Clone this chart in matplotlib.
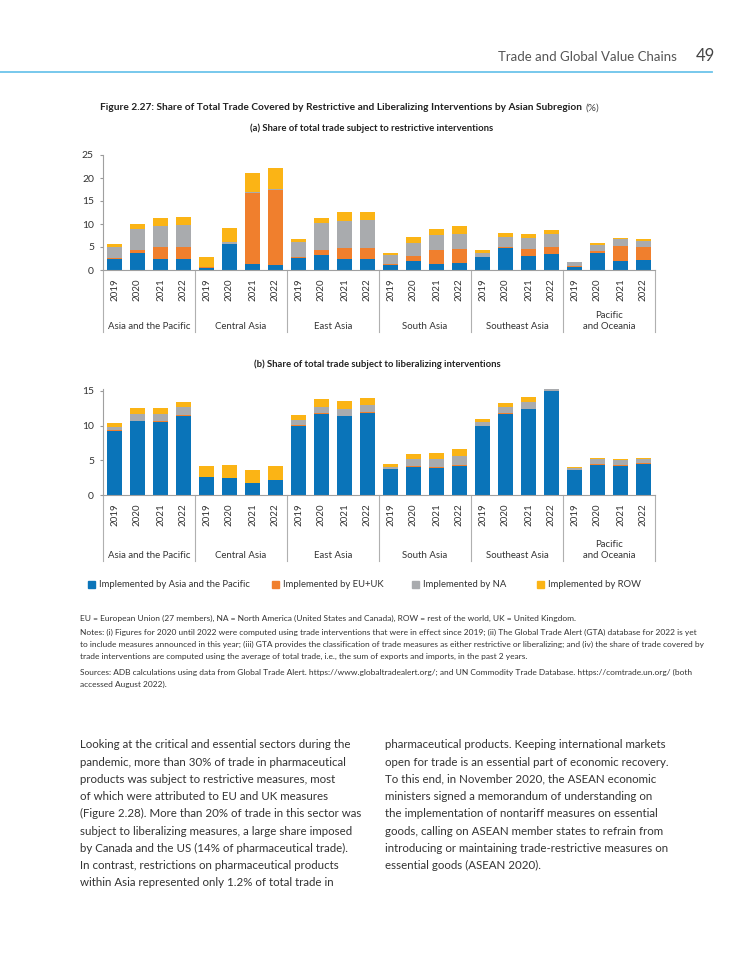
import matplotlib
matplotlib.use("Agg")
import matplotlib.pyplot as plt
import numpy as np

plt.rcParams['font.family'] = ['Lato', 'DejaVu Sans']

# ---- data -------------------------------------------------------------
regions = ["Asia and the Pacific", "Central Asia", "East Asia", "South Asia",
           "Southeast Asia", "Pacific\nand Oceania"]
years = ["2019", "2020", "2021", "2022"]
series = ["Implemented by Asia and the Pacific", "Implemented by EU+UK",
          "Implemented by NA", "Implemented by ROW"]
colors = ["#0A74B9", "#F07F2D", "#A9ABAE", "#FBB415"]

# (a) restrictive interventions, region by region, 2019-2022
restr_apac = [2.4, 3.6, 2.4, 2.45, 0.5, 5.6, 1.3, 1.1, 2.5, 3.3, 2.4, 2.3,
              1.1, 2.0, 1.2, 1.5, 2.75, 4.7, 3.0, 3.4, 0.7, 3.7, 1.95, 2.25]
restr_euuk = [0.3, 0.75, 2.5, 2.45, 0.05, 0.1, 15.4, 16.3, 0.3, 1.0, 2.3, 2.4,
              0.3, 1.0, 3.15, 3.1, 0.15, 0.4, 1.6, 1.7, 0.2, 0.4, 3.25, 2.65]
restr_na = [2.4, 4.5, 4.7, 4.95, 0.05, 0.3, 0.3, 0.3, 3.3, 5.9, 6.0, 6.2,
            1.9, 2.9, 3.15, 3.3, 0.9, 2.15, 2.3, 2.8, 0.8, 1.4, 1.5, 1.4]
restr_row = [0.5, 1.05, 1.6, 1.65, 2.2, 3.1, 4.0, 4.5, 0.6, 1.0, 2.0, 1.8,
             0.4, 1.2, 1.5, 1.7, 0.5, 0.75, 0.9, 0.9, 0.1, 0.3, 0.3, 0.4]

# (b) liberalizing interventions
lib_apac = [9.15, 10.6, 10.5, 11.35, 2.6, 2.5, 1.75, 2.15, 10.0, 11.7, 11.3, 11.8,
            3.7, 4.05, 3.9, 4.15, 9.95, 11.7, 12.35, 14.95, 3.55, 4.3, 4.15, 4.45]
lib_euuk = [0.15, 0.1, 0.1, 0.1, 0.0, 0.0, 0.0, 0.0, 0.1, 0.1, 0.1, 0.1,
            0.05, 0.15, 0.1, 0.15, 0.05, 0.05, 0.05, 0.0, 0.05, 0.15, 0.15, 0.1]
lib_na = [0.45, 1.0, 1.1, 1.15, 0.0, 0.0, 0.0, 0.0, 0.7, 0.9, 1.05, 1.0,
          0.25, 1.0, 1.2, 1.35, 0.5, 0.9, 1.0, 0.25, 0.35, 0.75, 0.7, 0.65]
lib_row = [0.65, 0.85, 0.85, 0.85, 1.6, 1.8, 1.85, 2.0, 0.7, 1.1, 1.1, 1.05,
           0.4, 0.7, 0.9, 0.9, 0.4, 0.65, 0.65, 0.05, 0.05, 0.1, 0.15, 0.1]

# ---- page helpers -----------------------------------------------------
W, H = 750, 971
TXT = "#333333"


def fx(x):
    return x / W


def fy(y):
    return 1 - y / H


fig = plt.figure(figsize=(W / 100, H / 100), dpi=100)

# running header
fig.text(fx(677), fy(57), "Trade and Global Value Chains", ha="right", va="center",
         fontsize=9.5, color="#555555")
fig.text(fx(696), fy(56), "49", ha="left", va="center", fontsize=12, color="#444444")
fig.add_artist(plt.Line2D([0, fx(712)], [fy(72), fy(72)], color="#6CC4EA", lw=1.3))

# figure title, bold part + "(%)"
t = fig.text(fx(100), fy(108), "Figure 2.27: Share of Total Trade Covered by Restrictive and "
             "Liberalizing Interventions by Asian Subregion", ha="left", va="center",
             fontsize=7.3, fontweight="bold", color="#222222")
fig.canvas.draw()
bb = t.get_window_extent(fig.canvas.get_renderer())
fig.text(bb.x1 / W + fx(3), fy(108), "(%)", ha="left", va="center", fontsize=7.3, color="#444444")


def draw_panel(ax, stacks, ymax, yticks, sep_px, lab_px):
    x = np.arange(len(stacks[0]))
    bottom = np.zeros(len(x))
    for vals, c, name in zip(stacks, colors, series):
        ax.bar(x, vals, 0.65, bottom=bottom, color=c, linewidth=0, label=name, clip_on=False)
        bottom += np.array(vals)
    ax.set_xlim(-0.5, len(x) - 0.5)
    ax.set_ylim(0, ymax)
    ax.set_yticks(yticks)
    ax.tick_params(axis="y", labelsize=7.5, length=2.5, color="#999999", pad=4, labelcolor=TXT)
    ax.set_xticks(x, labels=years * len(regions), rotation=90)
    ax.tick_params(axis="x", length=0, pad=6, labelsize=7, labelcolor=TXT)
    for s in ["top", "right"]:
        ax.spines[s].set_visible(False)
    for s in ["left", "bottom"]:
        ax.spines[s].set_color("#A0A0A0")
        ax.spines[s].set_linewidth(0.8)
    # group separators and region labels below the year labels
    h_px = ax.get_position().height * H
    tr = ax.get_xaxis_transform()
    for g in range(len(regions) + 1):
        ax.plot([g * 4 - 0.5] * 2, [0, -sep_px / h_px], transform=tr, color="#B0B0B0",
                lw=0.8, clip_on=False)
    for g, name in enumerate(regions):
        ax.text(g * 4 + 1.5, -lab_px / h_px, name, transform=tr, ha="center", va="bottom",
                fontsize=6.9, color=TXT, linespacing=1.3)


# panel (a)
fig.text(fx(372), fy(128), "(a) Share of total trade subject to restrictive interventions",
         ha="center", va="center", fontsize=6.8, fontweight="bold", color="#222222")
ax_a = fig.add_axes([fx(103), fy(270), 552 / W, 115 / H])
draw_panel(ax_a, [restr_apac, restr_euuk, restr_na, restr_row], 25,
           [0, 5, 10, 15, 20, 25], 62, 61)

# panel (b)
fig.text(fx(377), fy(364), "(b) Share of total trade subject to liberalizing interventions",
         ha="center", va="center", fontsize=6.8, fontweight="bold", color="#222222")
ax_b = fig.add_axes([fx(103), fy(495), 552 / W, 106.3 / H])
draw_panel(ax_b, [lib_apac, lib_euuk, lib_na, lib_row], 15.3,
           [0, 5, 10, 15], 66, 65)

# legend
leg_x = [88, 272, 412, 537]
for lx, c, name in zip(leg_x, colors, series):
    fig.patches.append(plt.Rectangle((fx(lx), fy(588)), 7 / W, 7 / H, color=c,
                                     transform=fig.transFigure, figure=fig))
    fig.text(fx(lx + 11), fy(584), name, ha="left", va="center", fontsize=6.8, color=TXT)

# notes
notes = [
    (618, "EU = European Union (27 members), NA = North America (United States and Canada), "
          "ROW = rest of the world, UK = United Kingdom."),
    (632, "Notes: (i) Figures for 2020 until 2022 were computed using trade interventions that were "
          "in effect since 2019; (ii) The Global Trade Alert (GTA) database for 2022 is yet"),
    (644, "to include measures announced in this year; (iii) GTA provides the classification of "
          "trade measures as either restrictive or liberalizing; and (iv) the share of trade covered by"),
    (656, "trade interventions are computed using the average of total trade, i.e., the sum of "
          "exports and imports, in the past 2 years."),
    (672, "Sources: ADB calculations using data from Global Trade Alert. "
          "https://www.globaltradealert.org/; and UN Commodity Trade Database. "
          "https://comtrade.un.org/ (both"),
    (684, "accessed August 2022)."),
]
for y, line in notes:
    fig.text(fx(80), fy(y), line, ha="left", va="center", fontsize=6.05, color=TXT)

# body text, two columns
left_col = [
    "Looking at the critical and essential sectors during the",
    "pandemic, more than 30% of trade in pharmaceutical",
    "products was subject to restrictive measures, most",
    "of which were attributed to EU and UK measures",
    "(Figure 2.28). More than 20% of trade in this sector was",
    "subject to liberalizing measures, a large share imposed",
    "by Canada and the US (14% of pharmaceutical trade).",
    "In contrast, restrictions on pharmaceutical products",
    "within Asia represented only 1.2% of total trade in",
]
right_col = [
    "pharmaceutical products. Keeping international markets",
    "open for trade is an essential part of economic recovery.",
    "To this end, in November 2020, the ASEAN economic",
    "ministers signed a memorandum of understanding on",
    "the implementation of nontariff measures on essential",
    "goods, calling on ASEAN member states to refrain from",
    "introducing or maintaining trade-restrictive measures on",
    "essential goods (ASEAN 2020).",
]
for i, line in enumerate(left_col):
    fig.text(fx(80), fy(745 + i * 17.2), line, ha="left", va="center", fontsize=8.3, color=TXT)
for i, line in enumerate(right_col):
    fig.text(fx(385), fy(745 + i * 17.2), line, ha="left", va="center", fontsize=8.3, color=TXT)

fig.savefig("out.png", dpi=100)
